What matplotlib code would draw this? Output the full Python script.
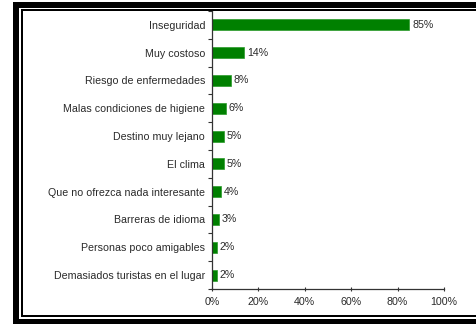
import matplotlib
matplotlib.use("Agg")
import matplotlib.pyplot as plt
from matplotlib.patches import Rectangle
from matplotlib.ticker import FixedLocator, PercentFormatter

categories = [
    "Inseguridad",
    "Muy costoso",
    "Riesgo de enfermedades",
    "Malas condiciones de higiene",
    "Destino muy lejano",
    "El clima",
    "Que no ofrezca nada interesante",
    "Barreras de idioma",
    "Personas poco amigables",
    "Demasiados turistas en el lugar",
]
values = [85, 14, 8, 6, 5, 5, 4, 3, 2, 2]
x_ticks = [0, 20, 40, 60, 80, 100]

W, H = 477, 324
FS = 7.7
TXT = "#2a2a2a"
plt.rcParams["font.family"] = ["Liberation Sans", "DejaVu Sans"]

fig = plt.figure(figsize=(W / 100, H / 100), dpi=100)
fig.patch.set_facecolor("white")


def fx(px):
    return px / W


def fy(py):
    return 1 - py / H


# double frame around the chart
def frame_rect(x0, y0, x1, y1):
    return Rectangle((fx(x0), fy(y1)), fx(x1) - fx(x0), fy(y0) - fy(y1),
                     transform=fig.transFigure, facecolor="black",
                     edgecolor="none", zorder=0)


for r in [
    frame_rect(13, 2, 490, 7.5),     # outer top
    frame_rect(13, 2, 19.5, 324),    # outer left
    frame_rect(13, 319, 490, 324),   # outer bottom
    frame_rect(21, 9, 490, 11),      # inner top
    frame_rect(21, 9, 23, 317),      # inner left
    frame_rect(21, 315, 490, 317),   # inner bottom
]:
    fig.add_artist(r)

ax = fig.add_axes([fx(212), fy(289), fx(444) - fx(212), fy(11) - fy(289)])
ax.set_facecolor("none")

y = list(range(len(categories)))
bars = ax.barh(y, values, height=0.4, color="#008000", edgecolor="#2a9a2a",
               linewidth=0.5)
for yi, v in zip(y, values):
    ax.text(v + 1.3, yi, f"{v}%", va="center", ha="left", fontsize=FS,
            color=TXT)

ax.set_xlim(0, 100)
ax.set_ylim(len(categories) - 0.5, -0.5)

ax.set_yticks(y)
ax.set_yticklabels(categories, fontsize=FS, color=TXT)
ax.tick_params(axis="y", which="major", length=0, pad=5)
ax.yaxis.set_minor_locator(FixedLocator([i - 0.5 for i in range(len(categories) + 1)]))
ax.tick_params(axis="y", which="minor", length=3, width=0.8, color="#333333",
               direction="out")

ax.set_xticks(x_ticks)
ax.xaxis.set_major_formatter(PercentFormatter(decimals=0))
ax.tick_params(axis="x", length=3, width=0.8, color="#333333", pad=4,
               labelsize=FS, labelcolor=TXT, direction="inout")

for side in ["top", "right"]:
    ax.spines[side].set_visible(False)
for side in ["left", "bottom"]:
    ax.spines[side].set_color("#333333")
    ax.spines[side].set_linewidth(0.9)

fig.savefig("out.png", dpi=100)
